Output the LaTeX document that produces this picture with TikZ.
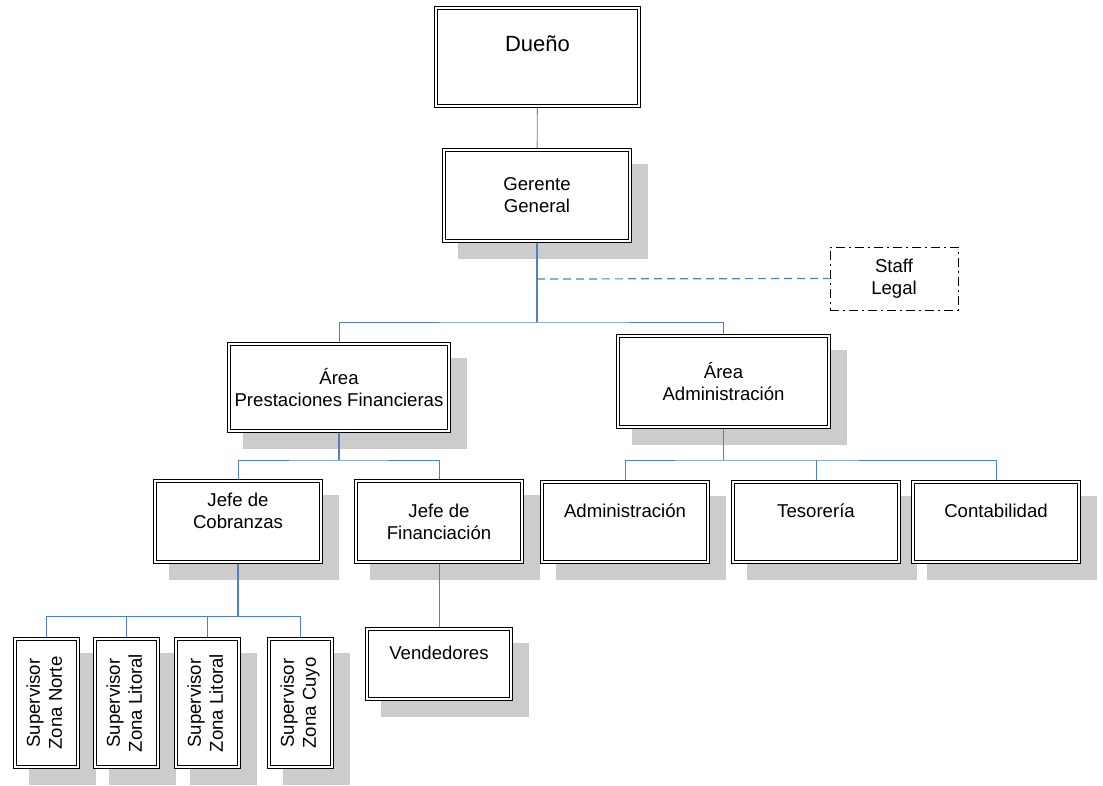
\documentclass[tikz,border=0pt]{standalone}
\usepackage{fontspec}
\setmainfont{Liberation Sans}
\usepackage{graphicx}
\usetikzlibrary{calc,backgrounds}

\definecolor{linkblue}{RGB}{79,129,189}
\definecolor{shadowgrey}{RGB}{204,204,204}

\tikzset{
  orgbox/.style={draw=black, double=white, double distance=1.8pt, line width=1.1pt,
    fill=white, inner sep=0pt, outer sep=2pt, align=center,
    font=\fontsize{18.6}{22}\selectfont},
  boxdim/.style 2 args={minimum width=#1pt-4pt, minimum height=#2pt-4pt},
  staffbox/.style={draw=black, line width=1pt, dash pattern=on 9pt off 4pt on 2pt off 4pt,
    fill=white, inner sep=0pt, align=center, minimum width=128pt, minimum height=63pt,
    font=\fontsize{18.6}{22}\selectfont},
  link/.style={draw=linkblue, line width=0.9pt},
  stem/.style={link, line width=1.5pt},
  stafflink/.style={link, line width=1.2pt, dash pattern=on 8pt off 5pt}
}

% empty trailing line that keeps the text in the upper part of a box
\newcommand{\blankline}{\rule{0pt}{0pt}}
\newcommand{\vtext}[2]{\rotatebox{90}{\begin{tabular}{@{}c@{}}#1\\#2\end{tabular}}}

\begin{document}
\begin{tikzpicture}[x=1pt,y=-1pt]
\useasboundingbox (0,0) rectangle (1103,785);

% top levels
\node[orgbox, boxdim={207}{102}, font=\fontsize{22}{26}\selectfont] (dueno) at (537.5,57) {Dueño\\\blankline};
\node[orgbox, boxdim={190}{95}] (gerente) at (537,195.5) {Gerente\\General};
\node[staffbox] (staff) at (894,278.5) {Staff\\Legal};

% areas
\node[orgbox, boxdim={224}{91}] (prest) at (339,387.5) {Área\\Prestaciones Financieras};
\node[orgbox, boxdim={215}{95}] (areaadm) at (723.5,381.5) {Área\\Administración};

% heads and departments
\node[orgbox, boxdim={170}{85}] (cobr) at (238,521.5) {Jefe de\\Cobranzas\\\blankline};
\node[orgbox, boxdim={170}{85}] (fin) at (439,521.5) {Jefe de\\Financiación};
\node[orgbox, boxdim={148}{74}] (vend) at (439,664) {Vendedores\\\blankline};
\node[orgbox, boxdim={170}{84}] (adm) at (625,522) {Administración\\\blankline};
\node[orgbox, boxdim={170}{84}] (tes) at (816,522) {Tesorería\\\blankline};
\node[orgbox, boxdim={170}{84}] (cont) at (996,522) {Contabilidad\\\blankline};

% supervisors
\node[orgbox, boxdim={67}{132}] (sup1) at (46.5,703) {\vtext{Supervisor}{Zona Norte}};
\node[orgbox, boxdim={67}{132}] (sup2) at (126.5,703) {\vtext{Supervisor}{Zona Litoral}};
\node[orgbox, boxdim={67}{132}] (sup3) at (207.5,703) {\vtext{Supervisor}{Zona Litoral}};
\node[orgbox, boxdim={67}{132}] (sup4) at (300.5,703) {\vtext{Supervisor}{Zona Cuyo}};

% drop shadows
\begin{pgfonlayer}{background}
  \foreach \n in {gerente,prest,areaadm,cobr,fin,vend,adm,tes,cont,sup1,sup2,sup3,sup4}
    \fill[shadowgrey] ($(\n.south west)+(16,16)$) rectangle ($(\n.north east)+(16,16)$);
\end{pgfonlayer}

% junction points
\coordinate (j0) at (537,279);
\coordinate (j1) at (537,322);
\coordinate (j2) at (339,460);
\coordinate (j3) at (723.5,460);
\coordinate (j4) at (238,616);

% connectors
\draw[link] (dueno) -- (gerente);
\draw[stem] (gerente) -- (j1);
\draw[stafflink] (j0) -- (staff.west);
\draw[link] (prest.north) |- (j1) -| (areaadm.north);

\draw[stem] (prest) -- (j2);
\draw[link] (cobr.north) |- (j2) -| (fin.north);
\draw[link] (fin) -- (vend);

\draw[stem] (areaadm) -- (j3);
\draw[link] (adm.north) |- (j3) -| (cont.north);
\draw[link] (tes.north) -- (tes.north |- j3);

\draw[stem] (cobr) -- (j4);
\draw[link] (sup1.north) |- (j4) -| (sup4.north);
\draw[link] (sup2.north) -- (sup2.north |- j4);
\draw[link] (sup3.north) -- (sup3.north |- j4);
\end{tikzpicture}
\end{document}
